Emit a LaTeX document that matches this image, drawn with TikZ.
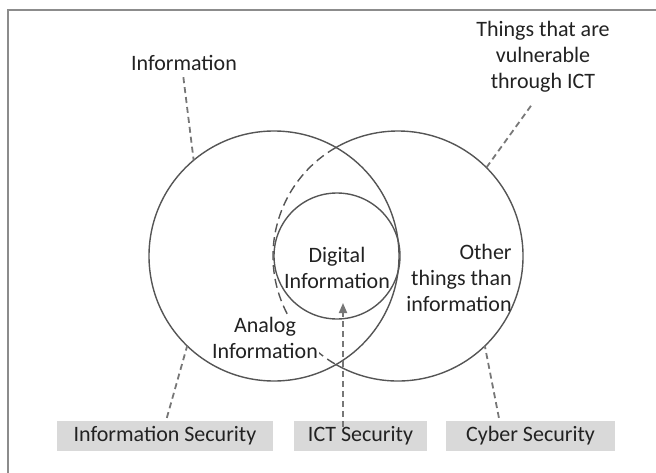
\documentclass[tikz,border=0pt]{standalone}
\usepackage{fontspec}
\setmainfont{Carlito}
\usetikzlibrary{arrows.meta,calc}
\definecolor{circ}{HTML}{555555}
\definecolor{lead}{HTML}{777777}
\definecolor{boxfill}{HTML}{D9D9D9}
\definecolor{txt}{HTML}{222222}
\definecolor{framec}{HTML}{8C8C8C}
\begin{document}
\begin{tikzpicture}[x=1pt,y=1pt,
  every node/.style={font=\fontsize{22}{26}\selectfont, text=txt},
  ring/.style={circle, inner sep=0pt, outer sep=0pt, draw=circ, line width=1.4pt},
  ringline/.style={draw=circ, line width=1.4pt},
  leader/.style={draw=lead, line width=1.8pt, dash pattern=on 6pt off 4pt},
  secbox/.style={fill=boxfill, minimum height=30pt, inner sep=0pt}]
\useasboundingbox (0,0) rectangle (656,472);
\draw[framec, line width=1.5pt] (8,-5) -- (8,462) -- (661,462);

% right circle (anchor only), its inner left arc dashed
\node[ring, draw=none, minimum size=250pt] (R) at (398,216) {};
\draw[ringline, dash pattern=on 9pt off 5pt] (R.120) arc[start angle=120, end angle=240, radius=125pt];
\node[align=center, fill=white, inner sep=1pt] (analog) at (265,134) {Analog\\Information};

% left circle, solid part of right circle, inner circle
\node[ring, minimum size=250pt] (L) at (274,216) {};
\draw[ringline] (R.240) arc[start angle=-120, end angle=120, radius=125pt];
\node[ring, minimum size=126pt] (D) at (337,216) {};

% labels
\node[align=center] (dig) at (337,204) {Digital\\Information};
\node[align=right] (other) at (459,194) {Other\\things than\\information};
\node (info) at (184,409) {Information};
\node[align=center] (things) at (543,415) {Things that are\\vulnerable\\through ICT};

% security boxes
\node[secbox, minimum width=216pt] (isec) at (165,36) {Information Security};
\node[secbox, minimum width=133pt] (ict) at (360.5,36) {ICT Security};
\node[secbox, minimum width=169pt] (csec) at (530.5,36) {Cyber Security};

% leaders
\draw[leader, shorten <=3pt] ([xshift=-1pt]info.south) -- (L.130);
\draw[leader, shorten <=12pt] ([xshift=-5pt]things.south) -- (R.45);
\draw[leader, shorten <=3pt] ([xshift=1pt]isec.north) -- (L.226);
\draw[leader, shorten <=3pt] ([xshift=-31pt]csec.north) -- (R.314);
\coordinate (tip) at (343,169);
\draw[leader, -{Triangle[length=10pt,width=8pt]}] ([yshift=-6pt]tip |- ict.north) -- (tip);
\end{tikzpicture}
\end{document}
